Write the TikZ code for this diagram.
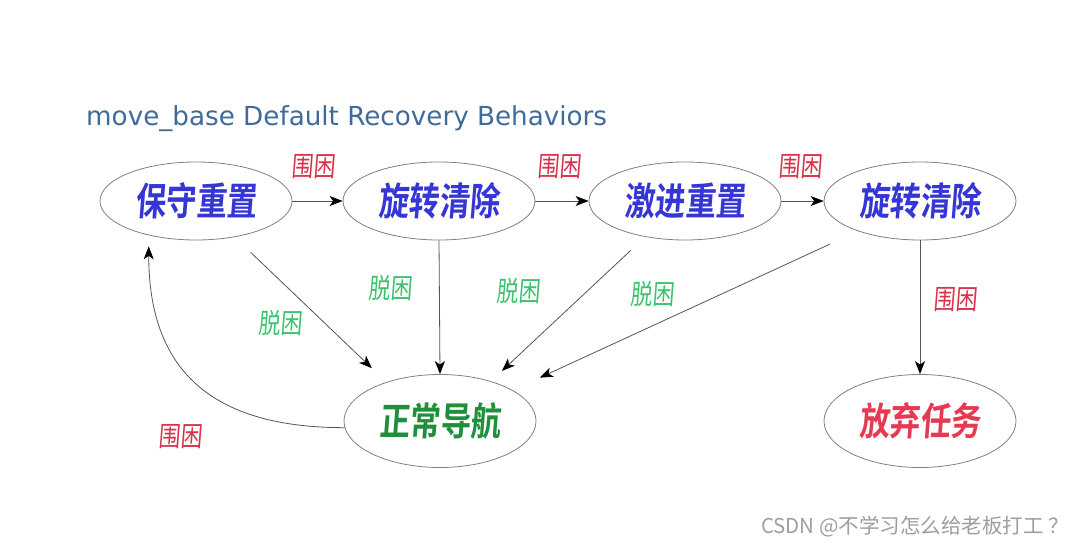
\documentclass[tikz,border=0pt]{standalone}
\usepackage{fontspec}
\usepackage{graphicx}
\setmainfont{DejaVu Sans}
\newfontfamily\cjk{Noto Sans CJK SC}[FakeSlant=0.1,BoldFont={Noto Sans CJK SC Bold},BoldFeatures={FakeSlant=0.1}]
\newfontfamily\cjkup{Noto Sans CJK SC}
\usetikzlibrary{shapes.geometric,arrows.meta}
\definecolor{nodeblue}{HTML}{3636D6}
\definecolor{navgreen}{HTML}{1E8F3A}
\definecolor{failred}{HTML}{E63A52}
\definecolor{lblred}{HTML}{D8334A}
\definecolor{lblgreen}{HTML}{3CC36E}
\definecolor{titleblue}{HTML}{3E6B9A}
\definecolor{ringgray}{HTML}{808080}
\definecolor{edgegray}{HTML}{555555}
\newcommand{\tall}[1]{\scalebox{0.95}[1.2]{#1}}
\begin{document}
\begin{tikzpicture}[x=1pt,y=-1pt,
  state/.style={ellipse,draw=ringgray,line width=0.8pt,minimum width=192pt,minimum height=78pt,inner sep=0pt,
    font=\cjk\bfseries\fontsize{32}{32}\selectfont},
  trapped/.style={text=lblred,font=\cjk\fontsize{23}{23}\selectfont,inner sep=0pt},
  freed/.style={text=lblgreen,font=\cjk\fontsize{23}{23}\selectfont,inner sep=0pt},
  edge/.style={draw=edgegray,line width=0.8pt,-{Stealth[length=13pt,width=10pt,inset=3.5pt,color=black]}}]
\useasboundingbox[fill=white] (0,0) rectangle (1075,545);
\node[anchor=west,text=titleblue,font=\fontsize{26.2}{26.2}\selectfont,inner sep=0pt] (title) at (86,119) {move\_base Default Recovery Behaviors};
\node[state,text=nodeblue] (b1) at (196,201) {\tall{保守重置}};
\node[state,text=nodeblue] (b2) at (439,201) {\tall{旋转清除}};
\node[state,text=nodeblue] (b3) at (685,201) {\tall{激进重置}};
\node[state,text=nodeblue] (b4) at (920,201) {\tall{旋转清除}};
\node[state,text=navgreen,minimum height=93pt] (nav) at (440,421) {\tall{正常导航}};
\node[state,text=failred,minimum height=93pt] (fail) at (920,421) {\tall{放弃任务}};
% top chain
\draw[edge] (b1) -- (b2);
\draw[edge] (b2) -- (b3);
\draw[edge] (b3) -- (b4);
\node[trapped] (t1) at (313,167) {\tall{围困}};
\node[trapped] (t2) at (559,167) {\tall{围困}};
\node[trapped] (t3) at (800,167) {\tall{围困}};
% to nav
\draw[edge,shorten <=22pt,shorten >=20pt] (b1.-43.4) -- (nav.144);
\draw[edge] (b2.south) -- (nav.north);
\draw[edge,shorten <=20pt,shorten >=15pt] (b3.-138.3) -- (nav.38.8);
\draw[edge,shorten <=31pt,shorten >=30pt] (b4.-154) -- (nav.23.7);
\node[freed] (f1) at (280,323) {\tall{脱困}};
\node[freed] (f2) at (390,288) {\tall{脱困}};
\node[freed] (f3) at (518,291) {\tall{脱困}};
\node[freed] (f4) at (652,294) {\tall{脱困}};
% back loop
\draw[edge,shorten >=11pt] (nav.184) to[out=180,in=-90,looseness=1.25] (b1.-144.7);
\node[trapped] (t4) at (180,437) {\tall{围困}};
% to fail
\draw[edge] (b4.south) -- (fail.north);
\node[trapped] (t5) at (955,300) {\tall{围困}};
% watermark
\node[anchor=east,text=black!38,font=\cjkup\fontsize{20.5}{20.5}\selectfont,inner sep=0pt] (wm) at (1069,527) {CSDN @不学习怎么给老板打工 ？};
\end{tikzpicture}
\end{document}
